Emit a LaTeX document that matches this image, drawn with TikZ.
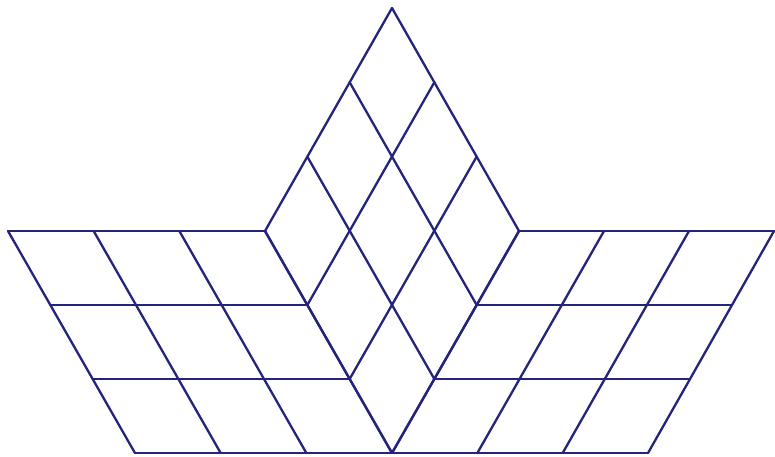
\documentclass[tikz,border=0pt]{standalone}
\usetikzlibrary{calc}
\definecolor{navy}{RGB}{36,36,125}
\begin{document}
\begin{tikzpicture}[x=1pt,y=-1pt,
  gridline/.style={draw=navy, line width=2.3pt, line cap=round, line join=round}]
\useasboundingbox (0,0) rectangle (775,456);
\fill[white] (0,0) rectangle (775,456);
\coordinate (T) at (392,8);
\coordinate (L) at (265,231);
\coordinate (R) at (519,231);
\coordinate (B) at (392,453);
\coordinate (LL) at (8,231);
\coordinate (LB) at (135,453);
\coordinate (RR) at (774,231);
\coordinate (RB) at (648,453);
\foreach \i in {0,1,2,3} {
  % central rhombus
  \draw[gridline] ($(T)!\i/3!(L)$) -- ($(R)!\i/3!(B)$);
  \draw[gridline] ($(T)!\i/3!(R)$) -- ($(L)!\i/3!(B)$);
  % left parallelogram
  \draw[gridline] ($(LL)!\i/3!(LB)$) -- ($(L)!\i/3!(B)$);
  \draw[gridline] ($(LL)!\i/3!(L)$) -- ($(LB)!\i/3!(B)$);
  % right parallelogram
  \draw[gridline] ($(R)!\i/3!(B)$) -- ($(RR)!\i/3!(RB)$);
  \draw[gridline] ($(R)!\i/3!(RR)$) -- ($(B)!\i/3!(RB)$);
}
\end{tikzpicture}
\end{document}
